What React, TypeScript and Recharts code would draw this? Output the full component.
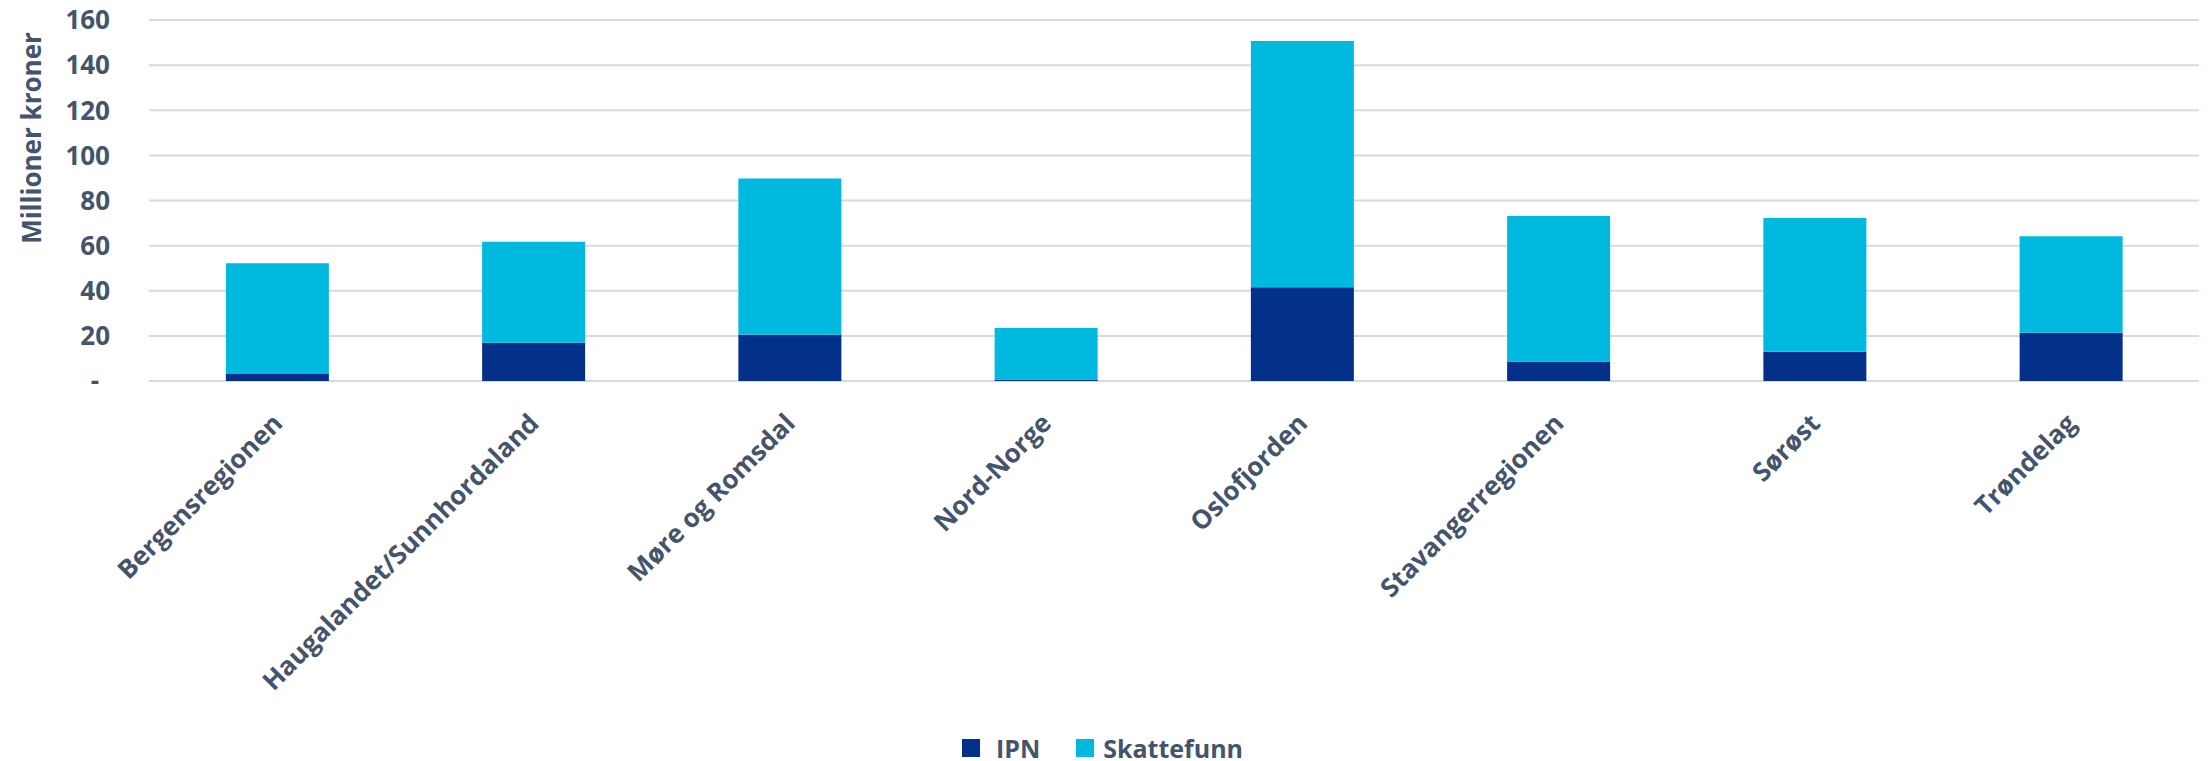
import React from 'react';
import { BarChart, Bar, XAxis, YAxis, CartesianGrid, Legend, Label } from 'recharts';

// regions and values (millioner kroner)
const regions = [
  'Bergensregionen',
  'Haugalandet/Sunnhordaland',
  'Møre og Romsdal',
  'Nord-Norge',
  'Oslofjorden',
  'Stavangerregionen',
  'Sørøst',
  'Trøndelag',
];
const ipn = [3.1, 17.0, 20.5, 0.7, 41.5, 8.6, 13.0, 21.4];
const skattefunn = [49.1, 44.7, 69.2, 22.8, 109.2, 64.5, 59.2, 42.7];
const yTicks = [0, 20, 40, 60, 80, 100, 120, 140, 160];

const seriesNames = ['IPN', 'Skattefunn'];
const seriesColors = ['#03318a', '#00b9de'];

const TEXT = '#44546a';
const FONT = '"Open Sans", "DejaVu Sans", sans-serif';

const data = regions.map((name, i) => ({
  name,
  IPN: ipn[i],
  Skattefunn: skattefunn[i],
}));

const YTick = (props: any) => {
  const { x, y, payload } = props;
  const isZero = payload.value === 0;
  return (
    <text
      x={isZero ? x - 11 : x}
      y={y}
      dy="0.36em"
      textAnchor="end"
      fill={TEXT}
      fontFamily={FONT}
      fontWeight={700}
      fontSize={26}
    >
      {isZero ? '-' : payload.value}
    </text>
  );
};

const XTick = (props: any) => {
  const { x, y, payload } = props;
  const ax = x + 7;
  const ay = y + 44;
  return (
    <text
      x={ax}
      y={ay}
      textAnchor="end"
      transform={`rotate(-45 ${ax} ${ay})`}
      fill={TEXT}
      fontFamily={FONT}
      fontWeight={700}
      fontSize={26}
    >
      {payload.value}
    </text>
  );
};

const YTitle = () => (
  <text
    x={41}
    y={138}
    textAnchor="middle"
    transform="rotate(-90 41 138)"
    fill={TEXT}
    fontFamily={FONT}
    fontWeight={700}
    fontSize={26}
  >
    Millioner kroner
  </text>
);

const LegendContent = () => (
  <div
    style={{
      boxSizing: 'border-box',
      height: 36,
      paddingTop: 10,
      display: 'flex',
      justifyContent: 'center',
      alignItems: 'center',
      transform: 'translateX(3px)',
      fontFamily: FONT,
      fontWeight: 700,
      fontSize: 25,
      color: TEXT,
    }}
  >
    {seriesNames.map((n, i) => (
      <div key={n} style={{ display: 'flex', alignItems: 'center', marginRight: i === 0 ? 36 : 0 }}>
        <div style={{ width: 18, height: 18, background: seriesColors[i], marginRight: i === 0 ? 16 : 9 }} />
        <span style={{ lineHeight: '26px' }}>{n}</span>
      </div>
    ))}
  </div>
);

export default function App() {
  return (
    <div style={{ position: 'absolute', left: 0, top: 0, width: 2208, height: 761, background: '#fff' }}>
      <BarChart
        width={2208}
        height={761}
        data={data}
        margin={{ top: 20, right: 9, left: 0, bottom: 0 }}
        barCategoryGap="30%"
      >
        <CartesianGrid vertical={false} stroke="#d6d9e6" strokeWidth={2} />
        <XAxis
          dataKey="name"
          interval={0}
          height={344}
          axisLine={false}
          tickLine={false}
          tickSize={0}
          tickMargin={0}
          tick={<XTick />}
        />
        <YAxis
          width={149}
          domain={[0, 160]}
          ticks={yTicks}
          axisLine={false}
          tickLine={false}
          tickSize={0}
          tickMargin={39}
          tick={<YTick />}
        >
          <Label content={<YTitle />} />
        </YAxis>
        <Legend verticalAlign="bottom" align="center" content={<LegendContent />} />
        {seriesNames.map((n, i) => (
          <Bar key={n} dataKey={n} stackId="a" fill={seriesColors[i]} isAnimationActive={false} />
        ))}
      </BarChart>
    </div>
  );
}
